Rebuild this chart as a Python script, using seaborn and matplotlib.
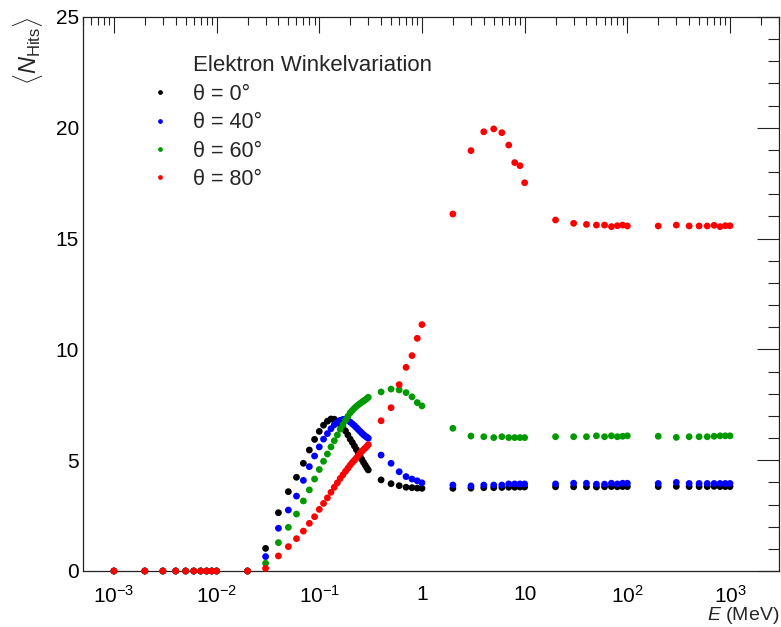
import numpy as np
import pandas as pd
import matplotlib
matplotlib.use('Agg')
import matplotlib.pyplot as plt
import seaborn as sns
from matplotlib.ticker import LogLocator, NullFormatter, MultipleLocator

# ---------------- data ----------------
energy = [0.001, 0.002, 0.003, 0.004, 0.005, 0.006, 0.007, 0.008, 0.009,
          0.01, 0.02, 0.03, 0.04, 0.05, 0.06, 0.07, 0.08, 0.09,
          0.10, 0.11, 0.12, 0.13, 0.14, 0.15, 0.16, 0.17, 0.18, 0.19, 0.20,
          0.21, 0.22, 0.23, 0.24, 0.25, 0.26, 0.27, 0.28, 0.29, 0.30,
          0.4, 0.5, 0.6, 0.7, 0.8, 0.9, 1.0,
          2, 3, 4, 5, 6, 7, 8, 9, 10,
          20, 30, 40, 50, 60, 70, 80, 90, 100,
          200, 300, 400, 500, 600, 700, 800, 900, 1000]

theta_labels = ['θ = 0°', 'θ = 40°', 'θ = 60°', 'θ = 80°']

hits_0 = [0, 0, 0, 0, 0, 0, 0, 0, 0, 0, 0,
          1.02, 2.63, 3.58, 4.23, 4.86, 5.46, 5.94,
          6.30, 6.58, 6.76, 6.86, 6.85, 6.74, 6.62, 6.48, 6.32, 6.14, 5.95,
          5.80, 5.64, 5.48, 5.32, 5.17, 5.03, 4.90, 4.78, 4.66, 4.56,
          4.11, 3.94, 3.85, 3.78, 3.76, 3.74, 3.73,
          3.73, 3.74, 3.76, 3.76, 3.77, 3.78, 3.78, 3.79, 3.79,
          3.80, 3.80, 3.80, 3.79, 3.80, 3.81, 3.80, 3.81, 3.81,
          3.81, 3.82, 3.81, 3.81, 3.81, 3.82, 3.81, 3.81, 3.81]

hits_40 = [0, 0, 0, 0, 0, 0, 0, 0, 0, 0, 0,
           0.65, 1.93, 2.75, 3.38, 4.09, 4.71, 5.19,
           5.60, 5.95, 6.20, 6.42, 6.60, 6.72, 6.80, 6.84, 6.84, 6.80, 6.72,
           6.64, 6.56, 6.47, 6.38, 6.30, 6.22, 6.15, 6.09, 6.04, 5.99,
           5.23, 4.86, 4.48, 4.26, 4.15, 4.07, 3.98,
           3.88, 3.84, 3.88, 3.88, 3.88, 3.93, 3.93, 3.93, 3.93,
           3.93, 3.96, 3.96, 3.92, 3.92, 3.96, 3.93, 3.96, 3.96,
           3.95, 4.00, 3.95, 3.95, 3.95, 3.95, 3.95, 3.95, 3.95]

hits_60 = [0, 0, 0, 0, 0, 0, 0, 0, 0, 0, 0,
           0.35, 1.28, 1.97, 2.57, 3.16, 3.66, 4.15,
           4.58, 4.95, 5.28, 5.60, 5.88, 6.14, 6.40, 6.60, 6.80, 6.98, 7.14,
           7.25, 7.35, 7.43, 7.50, 7.56, 7.62, 7.67, 7.72, 7.78, 7.84,
           8.08, 8.21, 8.17, 8.05, 7.86, 7.60, 7.45,
           6.44, 6.09, 6.06, 6.02, 6.06, 6.02, 6.02, 6.02, 6.02,
           6.06, 6.06, 6.06, 6.10, 6.06, 6.10, 6.06, 6.08, 6.10,
           6.08, 6.03, 6.06, 6.06, 6.06, 6.08, 6.10, 6.10, 6.10]

hits_80 = [0, 0, 0, 0, 0, 0, 0, 0, 0, 0, 0,
           0.12, 0.68, 1.10, 1.46, 1.80, 2.15, 2.45,
           2.78, 3.05, 3.30, 3.55, 3.78, 3.98, 4.18, 4.34, 4.50, 4.64, 4.78,
           4.90, 5.00, 5.10, 5.22, 5.32, 5.40, 5.48, 5.55, 5.62, 5.70,
           6.78, 7.37, 8.41, 9.19, 9.72, 10.50, 11.12,
           16.11, 18.97, 19.82, 19.95, 19.78, 19.22, 18.43, 18.29, 17.52,
           15.84, 15.69, 15.64, 15.61, 15.61, 15.54, 15.58, 15.61, 15.57,
           15.57, 15.61, 15.57, 15.57, 15.57, 15.60, 15.54, 15.58, 15.58]

colors = ['#000000', '#0000ff', '#009900', '#ff0000']

xtick_values = [1e-3, 1e-2, 1e-1, 1, 10, 1e2, 1e3]
xtick_labels = [r'$10^{-3}$', r'$10^{-2}$', r'$10^{-1}$', '1', '10',
                r'$10^{2}$', r'$10^{3}$']
ytick_values = [0, 5, 10, 15, 20, 25]

legend_title = 'Elektron Winkelvariation'

# ---------------- style ----------------
sns.set_theme(style='white')
plt.rcParams['font.family'] = ['Liberation Sans', 'DejaVu Sans']
plt.rcParams['mathtext.fontset'] = 'custom'
plt.rcParams['mathtext.rm'] = 'Liberation Sans'
plt.rcParams['mathtext.it'] = 'Liberation Sans:italic'
plt.rcParams['mathtext.bf'] = 'Liberation Sans:bold'

frames = []
for lab, vals in zip(theta_labels, [hits_0, hits_40, hits_60, hits_80]):
    frames.append(pd.DataFrame({'E': energy, 'N': vals, 'theta': lab}))
df = pd.concat(frames, ignore_index=True)

W, H = 781, 627
fig = plt.figure(figsize=(W / 100, H / 100), dpi=100)
ax = fig.add_axes([83 / W, 1 - 571 / H, 696 / W, 554 / H])

sns.scatterplot(data=df, x='E', y='N', hue='theta', hue_order=theta_labels,
                palette=colors, s=24, linewidth=0, ax=ax, clip_on=False,
                zorder=3)

ax.set_xscale('log')
ax.set_xlim(5e-4, 3e3)
ax.set_ylim(0, 25)

ax.set_xticks(xtick_values, xtick_labels)
ax.xaxis.set_minor_locator(LogLocator(base=10, subs=np.arange(2, 10), numticks=30))
ax.xaxis.set_minor_formatter(NullFormatter())
ax.set_yticks(ytick_values, [str(v) for v in ytick_values])
ax.yaxis.set_minor_locator(MultipleLocator(1))

ax.tick_params(which='both', direction='in', top=True, right=True,
               colors='#222222', labelcolor='black', width=0.8)
ax.tick_params(axis='x', which='major', length=11.5, labelsize=15, pad=10)
ax.tick_params(axis='x', which='minor', length=5.8)
ax.tick_params(axis='y', which='major', length=15.8, labelsize=15, pad=3)
ax.tick_params(axis='y', which='minor', length=7.9)

for sp in ax.spines.values():
    sp.set_color('#222222')
    sp.set_linewidth(0.9)

ax.set_xlabel(r'$E$ (MeV)', fontsize=14, loc='right')
ax.xaxis.set_label_coords(1.0, -0.061)
ax.set_ylabel(r'$\langle N_{\mathrm{Hits}}\rangle$', fontsize=17, loc='top')
ax.yaxis.set_label_coords(-0.055, 1.0)

sns.move_legend(ax, 'upper left', bbox_to_anchor=(0.0948, 0.879),
                frameon=False, title='', fontsize=15.5, markerscale=0.7,
                handlelength=1.0, handletextpad=1.03, labelspacing=0.34,
                borderpad=0, borderaxespad=0)
ax.text(0.158, 0.912, legend_title, transform=ax.transAxes, fontsize=16,
        ha='left', va='center')

fig.savefig('out.png', dpi=100)
